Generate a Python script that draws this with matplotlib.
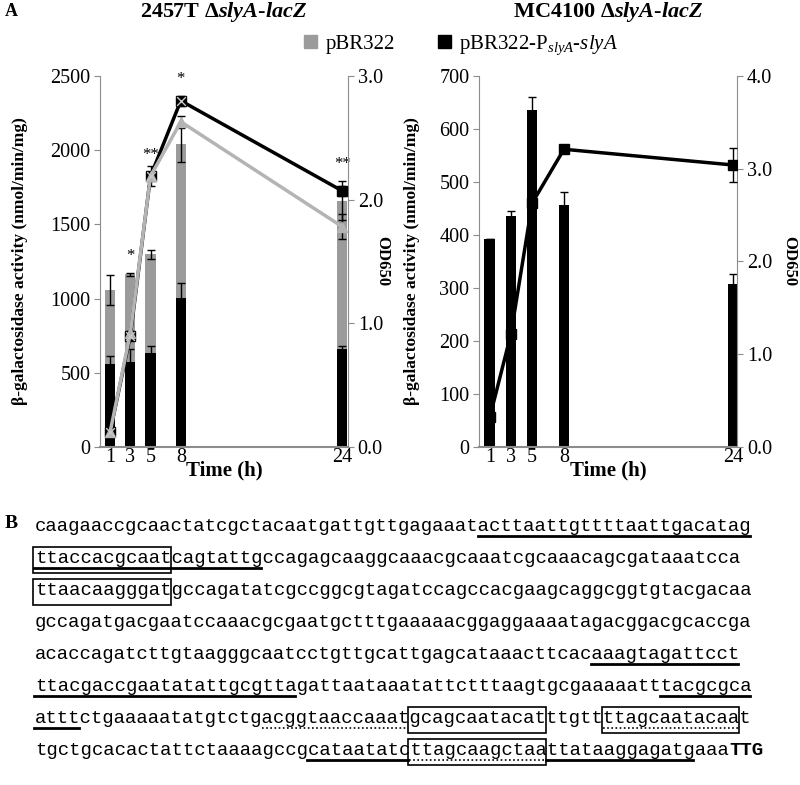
import numpy as np
import matplotlib.pyplot as plt
from matplotlib import rcParams
from matplotlib.patches import Rectangle, Patch

rcParams.update({'font.family': 'Liberation Serif', 'font.size': 12,
                 'mathtext.fontset': 'custom',
                 'mathtext.rm': 'Liberation Serif',
                 'mathtext.it': 'Liberation Serif:italic',
                 'mathtext.bf': 'Liberation Serif:bold'})
try:
    rcParams['mathtext.bfit'] = 'Liberation Serif:bold:italic'
except KeyError:
    pass

# colours
grey_bar = '#9b9b9b'
grey_line = '#b4b4b4'
spine = '#8c8c8c'

# ---- data (panel A) ----
time = [1, 3, 5, 8, 24]

# 2457T dslyA-lacZ
act_ctrl = [1060, 1165, 1300, 2040, 1660]
act_ctrl_err = [100, 10, 30, 120, 130]
act_slya = [560, 570, 630, 1005, 660]
act_slya_err = [50, 90, 50, 100, 20]
od_ctrl = [0.12, 0.92, 2.19, 2.63, 1.78]
od_ctrl_err = [0.01, 0.02, 0.08, 0.05, 0.10]
od_slya = [0.12, 0.90, 2.19, 2.80, 2.07]
od_slya_err = [0.01, 0.02, 0.03, 0.04, 0.04]
stars = ['', '*', '**', '*', '**']

# MC4100 dslyA-lacZ
mc_act = [392, 435, 635, 457, 308]
mc_act_err = [0, 10, 25, 25, 18]
mc_od = [0.32, 1.22, 2.63, 3.21, 3.04]
mc_od_err = [0, 0, 0, 0.02, 0.18]

# ---- data (panel B) ----
seq_lines = [
    'caagaaccgcaactatcgctacaatgattgttgagaaatacttaattgttttaattgacatag',
    'ttaccacgcaatcagtattgccagagcaaggcaaacgcaaatcgcaaacagcgataaatcca',
    'ttaacaagggatgccagatatcgccggcgtagatccagccacgaagcaggcggtgtacgacaa',
    'gccagatgacgaatccaaacgcgaatgctttgaaaaacggaggaaaatagacggacgcaccga',
    'acaccagatcttgtaagggcaatcctgttgcattgagcataaacttcacaaagtagattcct',
    'ttacgaccgaatatattgcgttagattaataaatattctttaagtgcgaaaaatttacgcgca',
    'atttctgaaaaatatgtctgacggtaaccaaatgcagcaatacatttgttttagcaatacaat',
    'tgctgcacactattctaaaagccgcataatatcttagcaagctaattataaggagatgaaa',
]
start_codon = 'TTG'
# (line, first char, last char + 1)
solid_under = [(0, 39, 63), (1, 0, 20), (4, 49, 62), (5, 0, 23), (5, 55, 63),
               (6, 0, 4), (7, 24, 33), (7, 45, 58)]
dotted_under = [(6, 20, 33), (6, 50, 62), (7, 33, 45)]
boxes = [(1, 0, 12), (2, 0, 12), (6, 33, 45), (6, 50, 62), (7, 33, 45)]

fig = plt.figure(figsize=(8, 7.85), dpi=100)


def panel(rect, title, act_sets, od_sets, ylim, yticks, odlim, odticks,
          xmax, ylab_x, odlab_x, star_list=None, cross=False):
    ax = fig.add_axes(rect)
    for vals, errs, col in act_sets:
        ax.bar(time, vals, width=1.0, color=col, zorder=2)
        ax.errorbar(time, vals, yerr=errs, fmt='none',
                    ecolor='black', elinewidth=1, capsize=3, zorder=3)
    ax.set_xlim(0, xmax)
    ax.set_ylim(*ylim)
    ax.set_yticks(yticks)
    ax.set_xticks(time)
    ax.tick_params(axis='x', length=0, labelsize=14.5, pad=1)
    ax.tick_params(axis='y', length=4, color=spine, labelsize=14.5, pad=3)
    for s in ['top', 'right']:
        ax.spines[s].set_visible(False)
    ax.spines['left'].set_color(spine)
    ax.spines['bottom'].set_color(spine)
    ax.spines['bottom'].set_linewidth(1.5)
    ax.set_ylabel('β-galactosidase activity (nmol/min/mg)', fontweight='bold',
                  fontsize=12.5)
    ax.yaxis.set_label_coords(ylab_x, 0.5)
    ax.set_xlabel('Time (h)', fontweight='bold', fontsize=15)
    ax.xaxis.set_label_coords(0.5, -0.037)

    ax2 = ax.twinx()
    for vals, errs, col, mk in od_sets:
        ax2.errorbar(time, vals, yerr=errs, color=col, lw=2.5, marker=mk,
                     ms=7, ecolor='black', elinewidth=1, capsize=3, zorder=4)
    if cross:
        ax2.scatter(time[:4], od_sets[0][0][:4], marker='x', s=40,
                    color='#c8c8c8', lw=1, zorder=6)
    ax2.set_ylim(*odlim)
    ax2.set_yticks(odticks)
    ax2.set_yticklabels(['%.1f' % v for v in odticks])
    ax2.tick_params(axis='y', length=4, color=spine, labelsize=14.5, pad=3)
    for s in ['top', 'left', 'bottom']:
        ax2.spines[s].set_visible(False)
    ax2.spines['right'].set_color(spine)
    ax2.set_ylabel('OD650', fontweight='bold', fontsize=12, rotation=270,
                   va='center')
    ax2.yaxis.set_label_coords(odlab_x, 0.5)

    ax.text(0.5, 1.172, title, transform=ax.transAxes, ha='center',
            va='center', fontsize=16, fontweight='bold')

    if star_list:
        scale = (ylim[1] - ylim[0]) / (odlim[1] - odlim[0])
        for i, s in enumerate(star_list):
            if not s:
                continue
            a = act_sets[0][0][i] + act_sets[0][1][i]
            o = (od_sets[0][0][i] + od_sets[0][1][i]) * scale
            ax.text(time[i], max(a, o) + 115, s, ha='center', va='center',
                    fontsize=12)
    return ax


panel([0.125, 0.4306, 0.31, 0.4726], '2457T Δ$\\mathbfit{slyA}$-$\\mathbfit{lacZ}$',
      [(act_ctrl, act_ctrl_err, grey_bar), (act_slya, act_slya_err, 'black')],
      [(od_slya, od_slya_err, 'black', 's'), (od_ctrl, od_ctrl_err, grey_line, '^')],
      (0, 2500), [0, 500, 1000, 1500, 2000, 2500], (0, 3.0), [0.0, 1.0, 2.0, 3.0],
      24.55, -0.29, 1.14, stars, cross=True)

panel([0.599, 0.4306, 0.3225, 0.4726], 'MC4100 Δ$\\mathbfit{slyA}$-$\\mathbfit{lacZ}$',
      [(mc_act, mc_act_err, 'black')],
      [(mc_od, mc_od_err, 'black', 's')],
      (0, 700), [0, 100, 200, 300, 400, 500, 600, 700], (0, 4.0),
      [0.0, 1.0, 2.0, 3.0, 4.0], 24.35, -0.23, 1.2)

handles = [Patch(color=grey_bar), Patch(color='black')]
fig.legend(handles, ['pBR322', 'pBR322-P$_{\\mathit{slyA}}$-$\\mathit{slyA}$'],
           loc='center left', bbox_to_anchor=(294 / 800, 1 - 45 / 785), ncol=2,
           frameon=False, handlelength=0.6, handleheight=0.6, handletextpad=0.4,
           columnspacing=2.1, fontsize=15, borderpad=0)

# ---- panel B: sequence ----
sx = fig.add_axes([0, 0, 1, 1])
sx.set_xlim(0, 800)
sx.set_ylim(785, 0)
sx.axis('off')
sx.patch.set_visible(False)

sx.text(5, 12, 'A', fontsize=13, fontweight='bold', va='center')
sx.text(5, 524, 'B', fontsize=14, fontweight='bold', va='center')

fs = 13.7
mono = 'Liberation Mono'
x0 = 35
base0 = 531
dy = 32

# measure the real advance of one monospace character
renderer = fig.canvas.get_renderer()
t_a = sx.text(0, 0, 'a' * 70, family=mono, fontsize=fs)
t_b = sx.text(0, 0, 'a' * 10, family=mono, fontsize=fs)
cw = (t_a.get_window_extent(renderer).width -
      t_b.get_window_extent(renderer).width) / 60
t_a.remove()
t_b.remove()

for i, line in enumerate(seq_lines):
    yb = base0 + i * dy
    sx.text(x0, yb, line, family=mono, fontsize=fs, va='baseline', ha='left')
    if i == len(seq_lines) - 1:
        sx.text(x0 + len(line) * cw, yb, start_codon, family=mono, fontsize=fs,
                fontweight='bold', va='baseline', ha='left')

for r, a, b in solid_under:
    yb = base0 + r * dy + 5
    sx.plot([x0 + a * cw - 1, x0 + b * cw - 2], [yb, yb], color='black', lw=2)
for r, a, b in dotted_under:
    yb = base0 + r * dy + 5
    sx.plot([x0 + a * cw - 1, x0 + b * cw - 2], [yb, yb], color='black', lw=1.2,
            ls=(0, (1, 1.5)))
for r, a, b in boxes:
    yb = base0 + r * dy
    sx.add_patch(Rectangle((x0 + a * cw - 2, yb - 16), (b - a) * cw + 1, 26,
                           fill=False, ec='black', lw=1.2))

fig.savefig('out.png', dpi=100)
